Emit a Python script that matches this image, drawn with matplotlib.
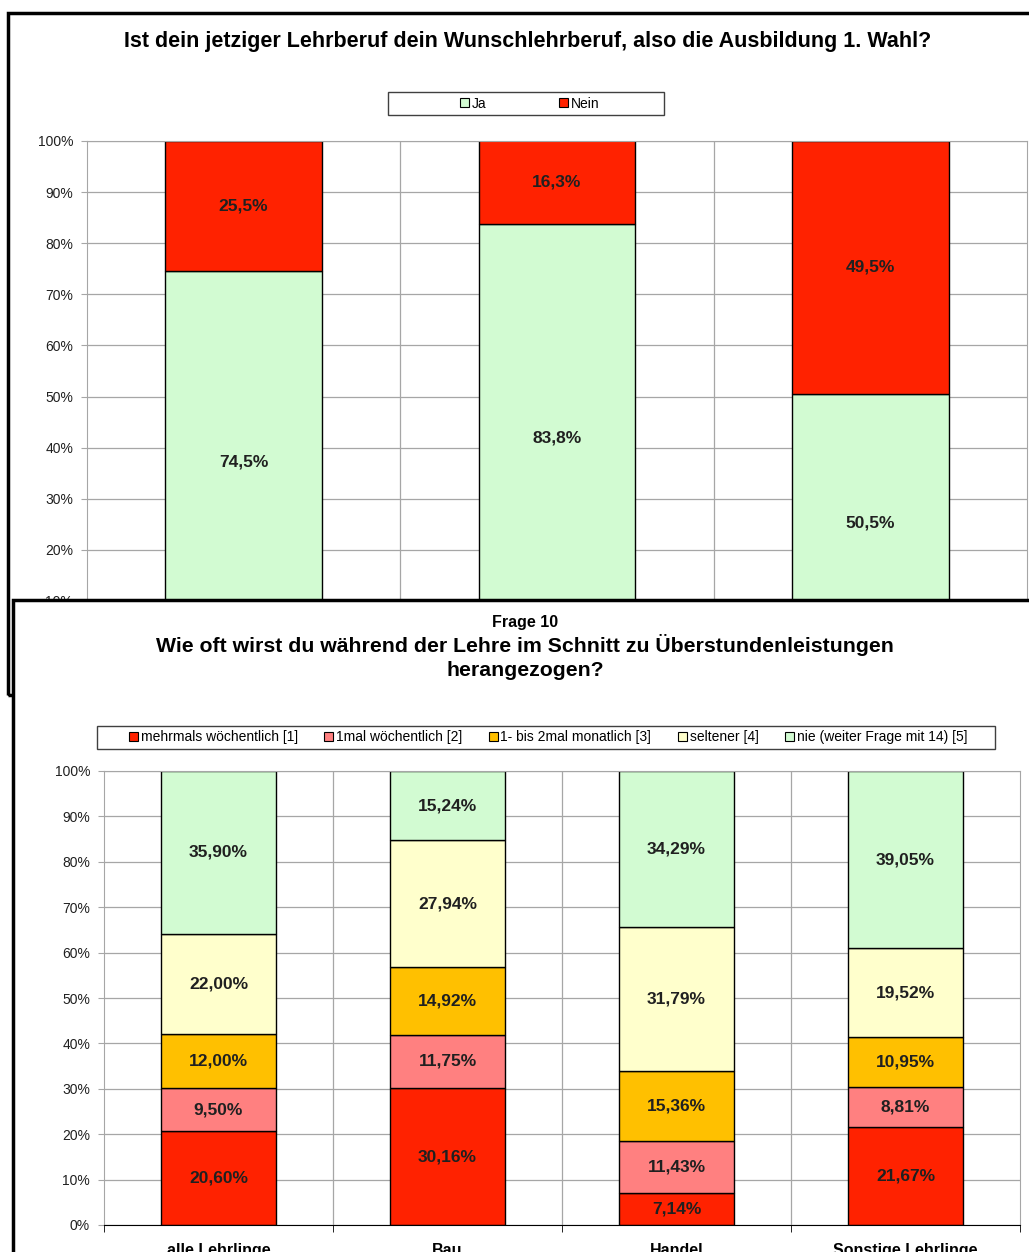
import matplotlib.pyplot as plt
from matplotlib.patches import Rectangle, Patch

W, H = 1029, 1252

# chart 1: Wunschlehrberuf
top_title = "Ist dein jetziger Lehrberuf dein Wunschlehrberuf, also die Ausbildung 1. Wahl?"
top_series = ["Ja", "Nein"]
top_ja = [74.5, 83.8, 50.5]
top_nein = [25.5, 16.3, 49.5]
top_labels_ja = ["74,5%", "83,8%", "50,5%"]
top_labels_nein = ["25,5%", "16,3%", "49,5%"]

# chart 2: Frage 10
bot_supertitle = "Frage 10"
bot_title = "Wie oft wirst du während der Lehre im Schnitt zu Überstundenleistungen\nherangezogen?"
bot_categories = ["alle Lehrlinge", "Bau", "Handel", "Sonstige Lehrlinge"]
bot_series = ["mehrmals wöchentlich [1]", "1mal wöchentlich [2]", "1- bis 2mal monatlich [3]",
              "seltener [4]", "nie (weiter Frage mit 14) [5]"]
bot_values = [
    [20.60, 30.16, 7.14, 21.67],
    [9.50, 11.75, 11.43, 8.81],
    [12.00, 14.92, 15.36, 10.95],
    [22.00, 27.94, 31.79, 19.52],
    [35.90, 15.24, 34.29, 39.05],
]
bot_labels = [
    ["20,60%", "30,16%", "7,14%", "21,67%"],
    ["9,50%", "11,75%", "11,43%", "8,81%"],
    ["12,00%", "14,92%", "15,36%", "10,95%"],
    ["22,00%", "27,94%", "31,79%", "19,52%"],
    ["35,90%", "15,24%", "34,29%", "39,05%"],
]
yticks = [0, 10, 20, 30, 40, 50, 60, 70, 80, 90, 100]
ytick_labels = [f"{v}%" for v in yticks]

RED = "#ff2200"
COLORS_TOP = ["#d2fbd2", RED]
COLORS_BOT = [RED, "#ff8080", "#ffc000", "#ffffcc", "#d2fbd2"]
GRID = "#a6a6a6"

plt.rcParams["font.family"] = ["Liberation Sans", "DejaVu Sans"]


def fbox(x0, y0, x1, y1):
    return [x0 / W, 1 - y1 / H, (x1 - x0) / W, (y1 - y0) / H]


def fx(x):
    return x / W


def fy(y):
    return 1 - y / H


def style_axes(ax, ncat):
    ax.set_xlim(-0.5, ncat - 0.5)
    ax.set_ylim(0, 100)
    ax.set_yticks(yticks)
    ax.set_yticklabels(ytick_labels, fontsize=10, color="#202020")
    ax.set_xticks([])
    ax.yaxis.grid(True, color=GRID, lw=0.9)
    for b in range(ncat - 1):
        ax.axvline(b + 0.5, color=GRID, lw=0.9, zorder=0)
    ax.set_axisbelow(True)
    for s in ["left", "right", "top"]:
        ax.spines[s].set_color(GRID)
    ax.tick_params(axis="y", length=4, color=GRID, pad=6)


def legend_box(x0, y0, x1, y1, z):
    # Excel style legend frame, drawn separately so the width matches
    fig.add_artist(Rectangle((fx(x0), fy(y1)), fx(x1) - fx(x0), fy(y0) - fy(y1),
                             transform=fig.transFigure, fc="white", ec="#404040", lw=1,
                             zorder=z))


fig = plt.figure(figsize=(W / 100, H / 100), dpi=100)

# frame of first chart
fig.add_artist(Rectangle((fx(8), fy(695)), fx(1100) - fx(8), fy(13) - fy(695),
                         transform=fig.transFigure, fill=False, ec="black", lw=2.5,
                         clip_on=False, zorder=1))
fig.text(fx(528), fy(42), top_title, ha="center", va="center", fontsize=15.5,
         fontweight="bold", zorder=1)

ax1 = fig.add_axes(fbox(87, 141, 1027, 652))
ax1.set_zorder(0)
style_axes(ax1, 3)
x1 = range(len(top_ja))
ax1.bar(x1, top_ja, width=0.5, color=COLORS_TOP[0], ec="black", lw=1, label=top_series[0])
ax1.bar(x1, top_nein, width=0.5, bottom=top_ja, color=COLORS_TOP[1], ec="black", lw=1,
        label=top_series[1])
for i in x1:
    ax1.text(i, top_ja[i] / 2, top_labels_ja[i], ha="center", va="center",
             fontsize=12.5, fontweight="bold", color="#202020")
    ax1.text(i, top_ja[i] + top_nein[i] / 2, top_labels_nein[i], ha="center", va="center",
             fontsize=12.5, fontweight="bold", color="#202020")

legend_box(388, 92, 664, 115, 1)
h1 = [Patch(fc=c, ec="black", lw=0.8) for c in COLORS_TOP]
leg1 = fig.legend(h1, top_series, loc="center", bbox_to_anchor=(fx(530), fy(103.5)),
                  ncol=2, fontsize=10, frameon=False,
                  handlelength=0.65, handleheight=0.65, handletextpad=0.2,
                  columnspacing=5.2, borderpad=0.2, borderaxespad=0)
leg1.set_zorder(1.5)

# frame of second chart, covering the first one
fig.add_artist(Rectangle((fx(13), fy(1300)), fx(1100) - fx(13), fy(600) - fy(1300),
                         transform=fig.transFigure, fc="white", ec="black", lw=2.5,
                         clip_on=False, zorder=2))
fig.text(fx(525), fy(623), bot_supertitle, ha="center", va="center", fontsize=11.5,
         fontweight="bold", zorder=3)
fig.text(fx(525), fy(657), bot_title, ha="center", va="center", fontsize=15.3,
         fontweight="bold", linespacing=1.28, zorder=3)

ax2 = fig.add_axes(fbox(104, 771, 1020, 1225))
ax2.set_zorder(3)
style_axes(ax2, 4)
ax2.spines["bottom"].set_color("black")
x2 = range(len(bot_categories))
bottom = [0.0] * len(bot_categories)
for k, vals in enumerate(bot_values):
    ax2.bar(x2, vals, width=0.5, bottom=bottom, color=COLORS_BOT[k], ec="black", lw=1,
            label=bot_series[k])
    for i in x2:
        ax2.text(i, bottom[i] + vals[i] / 2, bot_labels[k][i], ha="center", va="center",
                 fontsize=12.5, fontweight="bold", color="#202020")
    bottom = [b + v for b, v in zip(bottom, vals)]
ax2.set_xticks([-0.5, 0.5, 1.5, 2.5, 3.5], minor=True)
ax2.tick_params(axis="x", which="minor", length=5, color="black", direction="out")
# category names sit at the cut-off lower edge of the screenshot
for i, name in enumerate(bot_categories):
    ax2.text(i, -4.0, name, ha="center", va="top", fontsize=11.5, fontweight="bold",
             clip_on=False)

legend_box(97, 726, 995, 749, 3)
h2 = [Patch(fc=c, ec="black", lw=0.8) for c in COLORS_BOT]
leg2 = fig.legend(h2, bot_series, loc="center", bbox_to_anchor=(fx(548), fy(737.5)),
                  ncol=5, fontsize=10, frameon=False,
                  handlelength=0.65, handleheight=0.65, handletextpad=0.2,
                  columnspacing=1.9, borderpad=0.2, borderaxespad=0)
leg2.set_zorder(3.5)

fig.savefig("out.png", dpi=100)
